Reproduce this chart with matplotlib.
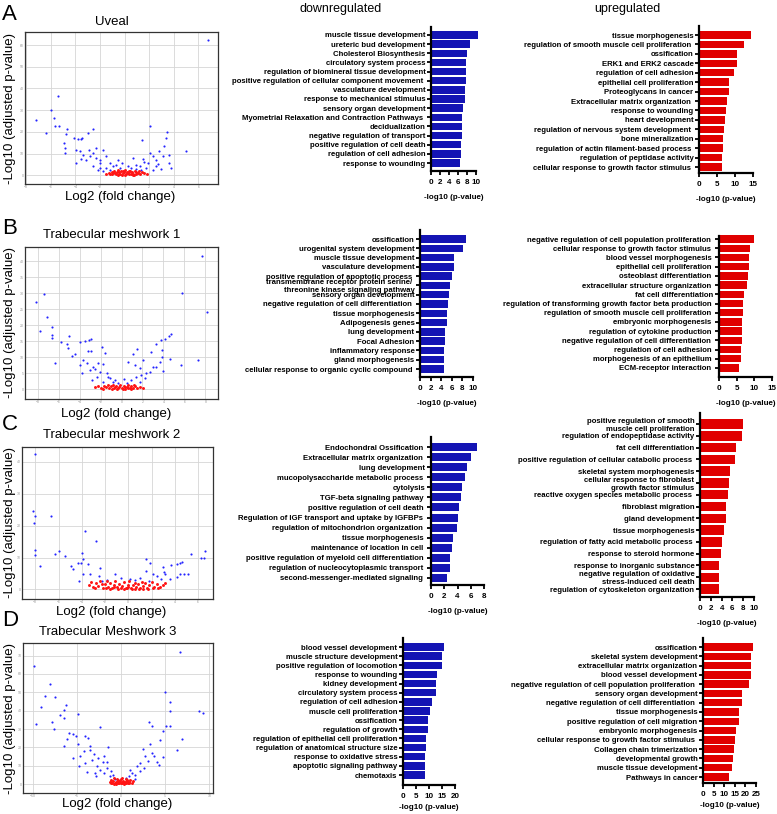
import numpy as np
import matplotlib
matplotlib.use('Agg')
import matplotlib.pyplot as plt

plt.rcParams['font.family'] = ['Liberation Sans', 'DejaVu Sans']

W, H = 777, 814
BLUE = '#1414b4'
RED = '#e00000'
DOT_BLUE = '#2424ff'
DOT_RED = '#ff1414'

# ---------------- volcano data (x = log2 FC, y = -log10 adj p) ----------------
uveal_blue = [(6.76, 62.2), (-7.24, 25.7), (-6.43, 19.5), (-6.0, 30.3), (-5.76, 26.5),
              (-5.62, 22.9), (-5.4, 36.5), (-5.35, 22.5), (-4.65, 21.1), (-4.73, 18.8),
              (-4.95, 14.9), (-4.81, 12.6), (-4.84, 10.3), (-4.14, 17.2), (-3.78, 16.5),
              (-3.57, 16.5), (-3.43, 17.2), (-2.97, 19.5), (-2.57, 21.1), (-3.97, 11.8),
              (-3.65, 11.1), (-3.38, 9.5), (-2.89, 11.8), (-2.3, 12.6), (-1.76, 11.8),
              (2.03, 22.6), (1.41, 16.2), (3.46, 19.8), (3.38, 17.2), (3.24, 13.4),
              (2.84, 11.1), (3.59, 9.5), (3.65, 5.7), (3.78, 3.4), (5.0, 11.1),
              (1.49, 7.5), (2.08, 10.3), (2.3, 8.8), (2.57, 7.2), (3.1, 8.8),
              (1.89, 5.7), (0.68, 8.0), (-2.3, 8.0), (-2.03, 7.2), (-1.49, 8.8),
              (-1.22, 5.7), (-0.68, 4.9), (-0.54, 7.2), (-3.1, 7.2), (-2.84, 8.8),
              (-3.51, 7.5), (-3.92, 5.7), (0.27, 4.2), (0.95, 4.9), (1.22, 4.2),
              (1.76, 3.4), (-2.03, 3.4), (-1.49, 3.4), (-0.95, 4.2), (-2.57, 4.2),
              (-0.41, 3.4), (0.54, 3.4), (1.35, 2.6), (2.57, 4.2), (2.3, 2.6),
              (-1.22, 2.3), (-1.76, 1.8), (-2.16, 2.3), (-2.03, 5.7), (-2.57, 10.3),
              (0.9, 2.8), (1.6, 6.1), (-0.2, 5.5), (2.7, 5.0), (3.0, 3.1)]
uveal_red = [(-1.55, 0.8), (-1.3, 1.2), (-1.2, 0.5), (-1.05, 1.6), (-0.95, 0.9),
             (-0.85, 2.1), (-0.7, 0.4), (-0.62, 1.3), (-0.5, 2.4), (-0.42, 0.7),
             (-0.3, 1.8), (-0.22, 0.3), (-0.1, 1.1), (0.02, 2.6), (0.1, 0.5),
             (0.18, 1.5), (0.3, 0.9), (0.38, 2.2), (0.5, 0.4), (0.6, 1.4),
             (0.72, 0.8), (0.85, 1.9), (0.95, 0.6), (1.1, 1.2), (1.25, 0.7),
             (1.4, 1.5), (1.6, 0.9), (1.85, 0.6), (-0.75, 1.0), (-0.55, 0.2),
             (-0.35, 0.6), (-0.15, 2.0), (0.05, 0.2), (0.25, 1.0), (0.45, 1.9),
             (0.65, 0.3), (0.9, 1.5), (-0.45, 1.4), (-0.05, 1.7), (0.35, 0.4),
             (0.8, 0.3), (-1.0, 0.6), (1.2, 2.0)]

tm1_blue = [(7.71, 41.7), (5.81, 30.0), (8.16, 24.0), (-8.16, 27.1), (-7.4, 29.8),
            (-7.14, 22.5), (-7.78, 18.2), (-6.67, 19.6), (-6.6, 17.0), (-6.63, 15.9),
            (-5.78, 14.9), (-5.24, 14.2), (-4.98, 16.7), (-5.08, 12.8), (-4.76, 10.4),
            (-4.44, 11.0), (-6.35, 8.1), (-3.97, 14.9), (-3.49, 15.2), (-3.08, 15.4),
            (-2.95, 15.6), (-3.17, 12.1), (-2.95, 12.1), (-1.9, 13.3), (-1.59, 11.3),
            (-3.65, 9.2), (-3.33, 8.1), (-3.97, 7.6), (-2.7, 7.1), (-2.22, 8.1),
            (-3.02, 6.0), (-3.81, 5.0), (-2.06, 5.5), (-1.43, 5.0), (-2.38, 4.0),
            (-1.11, 3.4), (-0.79, 2.4), (-1.75, 2.4), (-2.86, 2.9), (1.11, 11.0),
            (1.49, 12.5), (0.63, 8.6), (1.27, 7.6), (1.75, 6.6), (2.06, 9.2),
            (2.38, 5.0), (2.86, 11.8), (3.33, 14.2), (3.81, 15.4), (4.13, 15.6),
            (4.54, 16.7), (4.76, 17.2), (3.65, 8.6), (3.9, 12.3), (3.87, 10.2),
            (4.6, 9.4), (5.71, 7.6), (7.3, 9.2), (3.02, 7.1), (2.7, 5.5),
            (3.33, 7.1), (3.97, 5.8), (1.9, 4.5), (1.43, 4.0), (0.95, 2.9),
            (0.48, 2.1), (-0.32, 2.1), (1.75, 2.4), (-1.3, 3.9), (-0.6, 3.0),
            (0.2, 3.2), (2.2, 3.5), (-2.5, 6.4), (-1.8, 7.9)]
tm1_red = [(-2.5, 0.6), (-2.2, 0.9), (-1.95, 0.4), (-1.7, 1.1), (-1.5, 0.6),
           (-1.3, 1.3), (-1.15, 0.3), (-1.0, 0.9), (-0.85, 1.4), (-0.7, 0.5),
           (-0.55, 1.1), (-0.4, 0.2), (-0.25, 0.8), (-0.1, 1.3), (0.05, 0.4),
           (0.2, 1.0), (0.35, 0.2), (0.5, 0.7), (0.65, 1.3), (0.8, 0.4),
           (0.95, 0.9), (1.1, 0.3), (1.3, 1.0), (1.5, 0.5), (1.75, 0.8),
           (2.05, 0.4), (-0.9, 0.1), (-0.3, 0.5), (0.3, 0.7), (0.9, 0.1),
           (-1.8, 0.2), (1.2, 1.3), (-0.6, 0.8), (0.1, 0.1), (0.6, 0.3)]

tm2_blue = [(-8.0, 42.6), (-8.2, 24.7), (-8.0, 23.0), (-8.14, 20.7), (-6.66, 23.0),
            (-8.0, 12.5), (-8.06, 10.7), (-7.63, 7.4), (-6.29, 11.0), (-6.0, 12.1),
            (-5.43, 10.4), (-4.94, 7.4), (-4.77, 6.3), (-4.29, 8.2), (-4.0, 11.3),
            (-4.06, 8.4), (-3.71, 18.4), (-3.86, 9.4), (-3.43, 7.9), (-4.23, 2.7),
            (-3.91, 4.8), (-3.29, 4.8), (-2.77, 15.2), (-2.43, 6.6), (-2.49, 4.2),
            (-2.29, 2.7), (-1.14, 4.8), (0.14, 3.4), (0.57, 2.9), (1.49, 9.4),
            (1.86, 8.4), (1.49, 5.9), (2.14, 5.0), (2.43, 4.2), (1.8, 2.7),
            (3.0, 7.1), (3.09, 5.5), (3.2, 5.0), (3.57, 3.4), (3.71, 7.6),
            (4.2, 7.9), (4.43, 8.2), (4.66, 8.7), (4.43, 5.0), (4.2, 4.0),
            (4.77, 5.0), (5.17, 4.8), (5.43, 11.1), (6.29, 10.0), (6.49, 10.0),
            (6.57, 12.1), (1.0, 3.6), (2.8, 3.2), (-1.8, 3.1), (-0.6, 3.5)]
tm2_red = [(-3.4, 1.5), (-3.2, 2.4), (-3.0, 0.8), (-2.8, 2.0), (-2.6, 1.2),
           (-2.4, 2.8), (-2.2, 0.6), (-2.0, 1.7), (-1.85, 2.5), (-1.7, 0.9),
           (-1.55, 1.9), (-1.4, 0.4), (-1.25, 1.4), (-1.1, 2.6), (-0.95, 0.7),
           (-0.8, 1.8), (-0.65, 0.3), (-0.5, 1.2), (-0.35, 2.3), (-0.2, 0.6),
           (-0.05, 1.5), (0.1, 2.7), (0.25, 0.4), (0.4, 1.3), (0.55, 2.1),
           (0.7, 0.8), (0.85, 1.7), (1.0, 0.5), (1.15, 2.4), (1.3, 1.0),
           (1.45, 1.9), (1.6, 0.6), (1.8, 1.4), (2.0, 2.2), (2.2, 0.9),
           (2.45, 1.6), (2.7, 0.7), (2.95, 1.3), (3.2, 2.1), (-2.9, 0.3),
           (-1.6, 0.2), (-0.9, 0.2), (-0.4, 0.1), (0.3, 0.1), (0.9, 0.2),
           (1.7, 0.2), (2.6, 0.3), (-2.3, 1.6), (-1.2, 0.9), (0.0, 0.7),
           (0.6, 0.2), (1.25, 0.1), (-0.1, 0.3), (-1.9, 0.5), (2.1, 0.4)]

tm3_blue = [(6.65, 72.0), (-9.81, 64.2), (-8.0, 54.5), (-8.57, 47.8), (-7.44, 47.5),
            (-9.02, 41.8), (-6.2, 43.3), (-6.5, 40.5), (-6.88, 37.5), (-6.5, 36.0),
            (-7.82, 33.6), (-9.59, 32.7), (-7.63, 30.0), (-4.92, 38.4), (-5.94, 27.8),
            (-5.45, 27.3), (-5.08, 26.4), (-6.13, 24.5), (-6.43, 20.5), (-4.14, 26.0),
            (-3.8, 25.1), (-4.92, 22.0), (-3.57, 18.7), (-4.25, 17.8), (-2.37, 30.9),
            (-3.05, 16.5), (-4.62, 15.1), (-2.63, 14.2), (-3.31, 13.3), (-1.99, 15.1),
            (-1.43, 20.0), (-4.77, 10.0), (-4.06, 11.5), (-2.74, 9.6), (-2.37, 7.8),
            (-2.93, 6.0), (-1.62, 8.7), (-1.99, 6.0), (-1.24, 4.2), (-0.68, 2.7),
            (0.56, 3.3), (1.2, 6.0), (1.77, 9.6), (2.14, 11.5), (2.52, 19.1),
            (2.71, 15.1), (3.27, 22.0), (3.46, 16.9), (3.16, 33.6), (3.46, 31.8),
            (3.72, 15.1), (4.02, 11.8), (4.32, 10.5), (4.4, 24.2), (4.77, 14.7),
            (4.7, 28.7), (5.04, 31.5), (4.92, 50.0), (5.53, 44.5), (5.53, 40.0),
            (5.53, 31.8), (6.28, 18.4), (6.92, 24.5), (8.8, 39.6), (9.29, 38.7),
            (1.02, 7.8), (1.58, 5.1), (2.14, 6.9), (-3.5, 20.6), (-2.1, 11.9),
            (-1.1, 7.2), (-0.9, 5.1), (0.9, 4.2), (2.6, 8.8), (3.1, 12.5),
            (-1.6, 12.2), (-2.8, 4.1), (1.6, 2.6), (-5.4, 14.2), (-3.9, 6.8)]
tm3_red = [(-1.25, 1.2), (-1.1, 2.4), (-1.0, 0.6), (-0.9, 1.7), (-0.8, 3.1),
           (-0.7, 0.4), (-0.6, 1.3), (-0.5, 2.6), (-0.4, 0.8), (-0.3, 1.9),
           (-0.2, 0.3), (-0.1, 1.4), (0.0, 2.8), (0.1, 0.6), (0.2, 1.8),
           (0.3, 0.2), (0.4, 1.2), (0.5, 2.5), (0.6, 0.7), (0.7, 1.6),
           (0.8, 0.3), (0.9, 1.1), (1.05, 2.0), (1.2, 0.8), (1.35, 1.4),
           (-0.85, 0.2), (-0.35, 2.2), (0.15, 3.2), (0.45, 0.3), (0.95, 0.4),
           (-0.55, 0.1), (0.25, 0.9), (-0.05, 0.5), (0.65, 2.2), (-1.15, 0.3)]

# ---------------- enrichment data ----------------
a_down_terms = ['muscle tissue development', 'ureteric bud development', 'Cholesterol Biosynthesis',
                'circulatory system process', 'regulation of biomineral tissue development',
                'positive regulation of cellular component movement ', 'vasculature development',
                'response to mechanical stimulus', 'sensory organ development',
                'Myometrial Relaxation and Contraction Pathways ', 'decidualization',
                'negative regulation of transport', 'positive regulation of cell death',
                'regulation of cell adhesion', 'response to wounding']
a_down_vals = [10.4, 8.7, 8.0, 7.8, 7.8, 7.7, 7.6, 7.5, 7.1, 7.0, 7.0, 6.8, 6.6, 6.6, 6.4]

a_up_terms = ['tissue morphogenesis', 'regulation of smooth muscle cell proliferation ', 'ossification',
              'ERK1 and ERK2 cascade', 'regulation of cell adhesion', 'epithelial cell proliferation',
              'Proteoglycans in cancer', 'Extracellular matrix organization ', 'response to wounding',
              'heart development', 'regulation of nervous system development ', 'bone mineralization',
              'regulation of actin filament-based process ', 'regulation of peptidase activity',
              'cellular response to growth factor stimulus ']
a_up_vals = [14.4, 12.6, 10.6, 10.5, 9.8, 8.4, 8.2, 7.8, 7.4, 7.1, 6.9, 6.8, 6.7, 6.5, 6.5]

b_down_terms = ['ossification', 'urogenital system development', 'muscle tissue development',
                'vasculature development', 'positive regulation of apoptotic process ',
                'transmembrane receptor protein serine/ \nthreonine kinase signaling pathway',
                'sensory organ development', 'negative regulation of cell differentiation ',
                'tissue morphogenesis', 'Adipogenesis genes', 'lung development', 'Focal Adhesion',
                'inflammatory response', 'gland morphogenesis',
                'cellular response to organic cyclic compound ']
b_down_vals = [8.6, 8.2, 6.5, 6.4, 6.0, 5.7, 5.4, 5.2, 5.0, 5.0, 4.8, 4.8, 4.6, 4.5, 4.5]

b_up_terms = ['negative regulation of cell population proliferation ',
              'cellular response to growth factor stimulus ', 'blood vessel morphogenesis ',
              'epithelial cell proliferation ', 'osteoblast differentiation ',
              'extracellular structure organization ', 'fat cell differentiation',
              'regulation of transforming growth factor beta production ',
              'regulation of smooth muscle cell proliferation ', 'embryonic morphogenesis ',
              'regulation of cytokine production ', 'negative regulation of cell differentiation ',
              'regulation of cell adhesion ', 'morphogenesis of an epithelium ',
              'ECM-receptor interaction ']
b_up_vals = [9.8, 8.9, 8.5, 8.4, 8.3, 7.9, 7.2, 6.9, 6.8, 6.6, 6.4, 6.4, 6.3, 6.3, 5.7]

c_down_terms = ['Endochondral Ossification ', 'Extracellular matrix organization ', 'lung development',
                'mucopolysaccharide metabolic process ', 'cytolysis', 'TGF-beta signaling pathway ',
                'positive regulation of cell death ', 'Regulation of IGF transport and uptake by IGFBPs ',
                'regulation of mitochondrion organization ', 'tissue morphogenesis ',
                'maintenance of location in cell ', 'positive regulation of myeloid cell differentiation ',
                'regulation of nucleocytoplasmic transport ', 'second-messenger-mediated signaling ']
c_down_vals = [6.9, 6.0, 5.4, 5.2, 4.7, 4.6, 4.2, 4.1, 3.9, 3.3, 3.1, 2.9, 2.8, 2.4]

c_up_terms = ['positive regulation of smooth\nmuscle cell proliferation',
              'regulation of endopeptidase activity', 'fat cell differentiation',
              'positive regulation of cellular catabolic process ', 'skeletal system morphogenesis',
              'cellular response to fibroblast\ngrowth factor stimulus',
              'reactive oxygen species metabolic process ', 'fibroblast migration', 'gland development',
              'tissue morphogenesis', 'regulation of fatty acid metabolic process ',
              'response to steroid hormone', 'response to inorganic substance',
              'negative regulation of oxidative\nstress-induced cell death',
              'regulation of cytoskeleton organization']
c_up_vals = [8.0, 7.8, 6.6, 6.4, 5.6, 5.4, 5.1, 4.9, 4.8, 4.4, 4.1, 3.8, 3.6, 3.6, 3.6]

d_down_terms = ['blood vessel development', 'muscle structure development',
                'positive regulation of locomotion', 'response to wounding', 'kidney development',
                'circulatory system process', 'regulation of cell adhesion', 'muscle cell proliferation',
                'ossification', 'regulation of growth', 'regulation of epithelial cell proliferation',
                'regulation of anatomical structure size', 'response to oxidative stress',
                'apoptotic signaling pathway', 'chemotaxis']
d_down_vals = [15.7, 15.0, 14.9, 13.2, 12.6, 12.5, 11.0, 10.5, 9.8, 9.7, 8.8, 8.7, 8.6, 8.6, 8.3]

d_up_terms = ['ossification', 'skeletal system development', 'extracellular matrix organization',
              'blood vessel development', 'negative regulation of cell population proliferation ',
              'sensory organ development', 'negative regulation of cell differentiation ',
              'tissue morphogenesis', 'positive regulation of cell migration',
              'embryonic morphogenesis', 'cellular response to growth factor stimulus ',
              'Collagen chain trimerization', 'developmental growth', 'muscle tissue development',
              'Pathways in cancer']
d_up_vals = [23.7, 22.6, 22.5, 22.5, 21.5, 18.5, 18.2, 17.2, 17.1, 15.5, 15.0, 14.5, 14.2, 13.9, 12.3]

fig = plt.figure(figsize=(W / 100, H / 100), dpi=100)


def px_axes(x0, y0, x1, y1):
    return fig.add_axes([x0 / W, 1 - y1 / H, (x1 - x0) / W, (y1 - y0) / H])


def ftext(x, y, s, **kw):
    fig.text(x / W, 1 - y / H, s, **kw)


def volcano(box, blue, red, xlim, ylim, xticks, yticks):
    ax = px_axes(*box)
    b = np.array(blue)
    r = np.array(red)
    ax.scatter(b[:, 0], b[:, 1], s=2.4, c=DOT_BLUE, lw=0, zorder=3)
    ax.scatter(r[:, 0], r[:, 1], s=4.5, c=DOT_RED, lw=0, zorder=4)
    ax.set_xlim(xlim)
    ax.set_ylim(ylim)
    ax.set_xticks(xticks)
    ax.set_yticks(yticks)
    ax.grid(color='#d6d6d6', lw=0.6)
    ax.set_axisbelow(True)
    ax.tick_params(length=0, labelsize=2.5, labelcolor='#9a9a9a', pad=1)
    for sp in ax.spines.values():
        sp.set_linewidth(0.9)
        sp.set_color('#333333')
    return ax


def bars(box, first, last, terms, vals, color, xmax, step, lpad=6):
    x0, top, x1, bot = box
    ax = px_axes(x0, top, x1, bot)
    n = len(vals)
    s = (last - first) / (n - 1)
    ax.barh(range(n), vals, height=0.8, color=color, clip_on=False)
    ax.set_ylim(n - 1 + (bot - last) / s, -(first - top) / s)
    ax.set_xlim(0, xmax)
    ax.set_xticks(range(0, xmax + 1, step))
    ax.set_yticks(range(n))
    ax.set_yticklabels(terms, fontsize=5.6, fontweight='bold', multialignment='right')
    for t in ax.get_xticklabels():
        t.set_fontsize(5.8)
        t.set_fontweight('bold')
    ax.spines['top'].set_visible(False)
    ax.spines['right'].set_visible(False)
    ax.spines['left'].set_linewidth(1.6)
    ax.spines['bottom'].set_linewidth(1.6)
    ax.tick_params(axis='both', direction='out', length=3, width=1.3, pad=1.0)
    ax.tick_params(axis='x', pad=2.5)
    ax.set_xlabel('-log10 (p-value)', fontsize=5.8, fontweight='bold', labelpad=lpad)
    return ax


# volcano panels
volcano((25, 32, 218, 184), uveal_blue, uveal_red, (-8.1, 7.6), (-4, 66),
        range(-8, 7, 2), range(0, 61, 10))
volcano((25, 247, 218, 399), tm1_blue, tm1_red, (-9.2, 9.2), (-3, 44.4),
        range(-8, 9, 2), range(0, 41, 5))
volcano((22, 447, 213, 599), tm2_blue, tm2_red, (-9.14, 7.29), (-3, 44.7),
        range(-8, 7, 2), range(0, 41, 10))
volcano((23, 643, 213, 793), tm3_blue, tm3_red, (-11.1, 10.4), (-4.9, 76.9),
        range(-10, 11, 5), range(0, 71, 10))

# bar panels
bars((431, 27, 476, 171), 35, 163, a_down_terms, a_down_vals, BLUE, 10, 2)
bars((699, 26, 753, 173), 35, 167, a_up_terms, a_up_vals, RED, 15, 5)
bars((420, 230, 473, 377), 239, 369, b_down_terms, b_down_vals, BLUE, 10, 2)
bars((719, 236, 772, 377), 239, 368, b_up_terms, b_up_vals, RED, 15, 5)
bars((431, 437, 484, 585), 447, 578, c_down_terms, c_down_vals, BLUE, 8, 2)
bars((700, 413, 754, 597), 424, 589, c_up_terms, c_up_vals, RED, 10, 2)
bars((403, 638, 455, 785), 647, 775, d_down_terms, d_down_vals, BLUE, 20, 5, lpad=3)
bars((703, 638, 756, 783), 647, 777, d_up_terms, d_up_vals, RED, 25, 5, lpad=3)

# text
for letter, y in [('A', 14), ('B', 228), ('C', 424), ('D', 620)]:
    ftext(2, y, letter, fontsize=16, va='center', ha='left')
for title, x, y in [('Uveal', 112, 22), ('Trabecular meshwork 1', 112, 235),
                    ('Trabecular meshwork 2', 112, 435), ('Trabecular Meshwork 3', 108, 632)]:
    ftext(x, y, title, fontsize=9.5, ha='center', va='center')
for x, y in [(120, 197), (116, 414), (111, 612), (117, 804)]:
    ftext(x, y, 'Log2 (fold change)', fontsize=9.5, ha='center', va='center')
for y in [109, 323, 523, 718]:
    ftext(10, y, '-Log10 (adjusted p-value)', fontsize=9.5, ha='center', va='center', rotation=90)
ftext(341, 9, 'downregulated', fontsize=9, ha='center', va='center')
ftext(627, 9, 'upregulated', fontsize=9, ha='center', va='center')

fig.savefig('out.png', dpi=100)
